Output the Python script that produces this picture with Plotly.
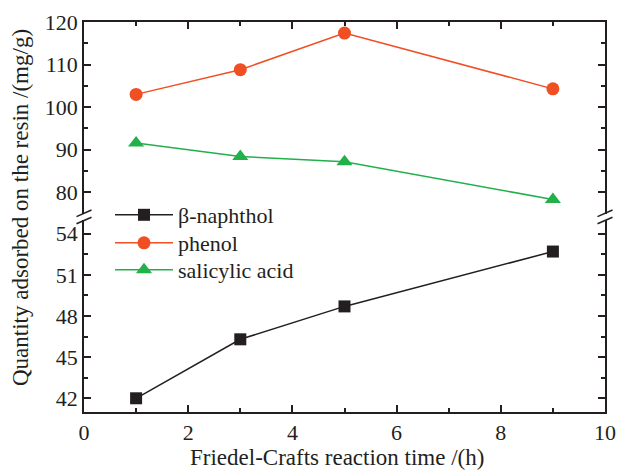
import plotly.graph_objects as go

# ---- data ----
time_h = [1, 3, 5, 9]
naphthol = [42.0, 46.3, 48.7, 52.7]
phenol = [103.0, 108.8, 117.4, 104.3]
salicylic = [91.6, 88.4, 87.2, 78.3]

x_ticks = [0, 2, 4, 6, 8, 10]
y_low_ticks = [42, 45, 48, 51, 54]
y_up_ticks = [80, 90, 100, 110, 120]

# ---- layout geometry ----
W, H = 617, 470
L, R, T, B = 84, 12, 22, 58
PW, PH = W - L - R, H - T - B

def px(xp):
    return (xp - L) / PW

def py(yp):
    return (H - B - yp) / PH

FONT = "Liberation Serif"
BLACK = "#231F20"
ORANGE = "#F04E23"
GREEN = "#22B04B"

fig = go.Figure()

fig.add_trace(go.Scatter(x=time_h, y=naphthol, name="β-naphthol", mode="lines+markers",
                         xaxis="x", yaxis="y", legend="legend",
                         line=dict(color=BLACK, width=1.5),
                         marker=dict(symbol="square", size=12, color=BLACK)))
fig.add_trace(go.Scatter(x=time_h, y=phenol, name="phenol", mode="lines+markers",
                         xaxis="x2", yaxis="y2", legend="legend2",
                         line=dict(color=ORANGE, width=1.5),
                         marker=dict(symbol="circle", size=13, color=ORANGE)))
fig.add_trace(go.Scatter(x=time_h, y=salicylic, name="salicylic acid", mode="lines+markers",
                         xaxis="x2", yaxis="y2", legend="legend3",
                         line=dict(color=GREEN, width=1.5),
                         marker=dict(symbol="triangle-up", size=14, color=GREEN)))

axis_common = dict(showline=True, linecolor=BLACK, linewidth=1.5, ticks="inside",
                   tickcolor=BLACK, tickwidth=1.5, ticklen=7, showgrid=False, zeroline=False,
                   automargin=False,
                   tickfont=dict(family=FONT, size=22, color=BLACK))

low_top = py(220)
up_bot = py(213.6)

def leg(yc):
    return dict(x=px(110), y=py(yc), xanchor="left", yanchor="middle",
                bgcolor="rgba(0,0,0,0)", font=dict(family=FONT, size=22, color=BLACK),
                itemwidth=58, borderwidth=0)

fig.update_layout(
    width=W, height=H, autosize=False,
    font=dict(family=FONT),
    margin=dict(l=L, r=R, t=T, b=B, autoexpand=False),
    paper_bgcolor="white", plot_bgcolor="white",
    showlegend=True,
    legend=leg(215), legend2=leg(243), legend3=leg(270),
    xaxis=dict(domain=[0, 1], range=[0, 10], anchor="y", tickvals=x_ticks,
               minor=dict(dtick=1, ticks="inside", ticklen=4, tickcolor=BLACK, tickwidth=1.5),
               **axis_common),
    xaxis2=dict(domain=[0, 1], range=[0, 10], anchor="y2", side="top", matches="x",
                tickvals=x_ticks, showticklabels=False,
                minor=dict(dtick=1, ticks="inside", ticklen=4, tickcolor=BLACK, tickwidth=1.5),
                **axis_common),
    yaxis=dict(domain=[0, low_top], range=[41, 55], anchor="x", tickvals=y_low_ticks,
               mirror="ticks",
               minor=dict(dtick=1.5, tick0=42, ticks="inside", ticklen=4, tickcolor=BLACK, tickwidth=1.5),
               **axis_common),
    yaxis2=dict(domain=[up_bot, 1], range=[75, 120], anchor="x2", tickvals=y_up_ticks,
                mirror="ticks",
                minor=dict(dtick=5, tick0=80, ticks="inside", ticklen=4, tickcolor=BLACK, tickwidth=1.5),
                **axis_common),
)

fig.add_annotation(text="Friedel-Crafts reaction time /(h)", xref="paper", yref="paper",
                   x=px(337), y=py(457), xanchor="center", yanchor="middle", showarrow=False,
                   font=dict(family=FONT, size=23, color=BLACK))
fig.add_annotation(text="Quantity adsorbed on the resin /(mg/g)", xref="paper", yref="paper",
                   x=px(20), y=py(208), xanchor="center", yanchor="middle", showarrow=False,
                   textangle=-90, font=dict(family=FONT, size=23, color=BLACK))

for xc in (L, W - R):
    for yc in (213.3, 220.5):
        fig.add_shape(type="line", xref="paper", yref="paper",
                      x0=px(xc - 7.5), y0=py(yc + 3.3), x1=px(xc + 7.5), y1=py(yc - 3.3),
                      line=dict(color=BLACK, width=1.5))

fig.write_html("out.html")
